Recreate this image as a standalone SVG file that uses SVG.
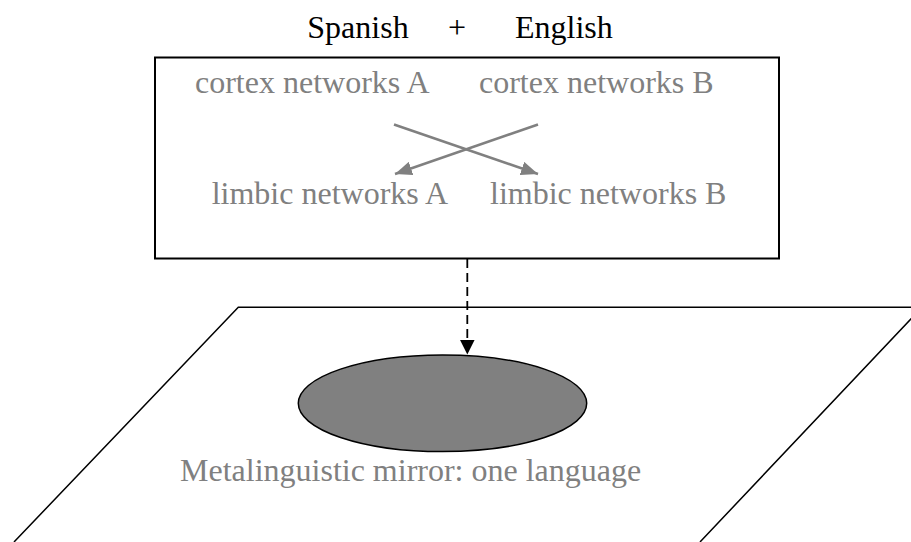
<svg xmlns="http://www.w3.org/2000/svg" width="911" height="542" viewBox="0 0 911 542">
  <style>
    .t { font-family: "Liberation Serif", "Times New Roman", serif; font-size: 32px; }
    .title { fill: #000000; }
    .gray { fill: #808080; }
    .conn { stroke: #808080; stroke-width: 2.5; fill: none; }
    .dash { stroke: #000000; stroke-width: 1.8; fill: none; stroke-dasharray: 9 5; }
  </style>
  <defs>
    <marker id="grayHead" markerUnits="userSpaceOnUse" markerWidth="18" markerHeight="14" refX="17" refY="7" orient="auto">
      <path d="M0,0 L17,7 L0,14 z" fill="#808080"/>
    </marker>
    <marker id="blackHead" markerUnits="userSpaceOnUse" markerWidth="16" markerHeight="16" refX="15" refY="7.5" orient="auto">
      <path d="M0,0 L15,7.5 L0,15 z" fill="#000000"/>
    </marker>
  </defs>

  <g id="plane">
    <polyline points="14,542 238.3,307.3 922,307.3 700,542" fill="none" stroke="#000000" stroke-width="1.5"/>
  </g>

  <g id="title">
    <text class="t title" x="307.3" y="38.3">Spanish</text>
    <text class="t title" x="457" y="38.3" text-anchor="middle">+</text>
    <text class="t title" x="515" y="38.3">English</text>
  </g>

  <g id="networks-box">
    <rect x="155" y="57.5" width="624" height="201" fill="#ffffff" stroke="#000000" stroke-width="2"/>
  </g>

  <g id="cortex-A">
    <text class="t gray" x="195" y="92.7">cortex networks A</text>
  </g>
  <g id="cortex-B">
    <text class="t gray" x="479" y="92.7">cortex networks B</text>
  </g>
  <g id="limbic-A">
    <text class="t gray" x="211.7" y="204">limbic networks A</text>
  </g>
  <g id="limbic-B">
    <text class="t gray" x="490" y="204">limbic networks B</text>
  </g>

  <g id="mirror">
    <ellipse cx="442.5" cy="403.3" rx="144.2" ry="48.3" fill="#808080" stroke="#000000" stroke-width="1.5"/>
    <text class="t gray" x="180" y="481">Metalinguistic mirror: one language</text>
  </g>

  <g id="connectors">
    <line class="conn" x1="394" y1="124.5" x2="538" y2="174" marker-end="url(#grayHead)"/>
    <line class="conn" x1="538" y1="124.5" x2="395" y2="174" marker-end="url(#grayHead)"/>
    <line class="dash" x1="467.3" y1="259" x2="467.3" y2="354.5" marker-end="url(#blackHead)"/>
  </g>
</svg>
